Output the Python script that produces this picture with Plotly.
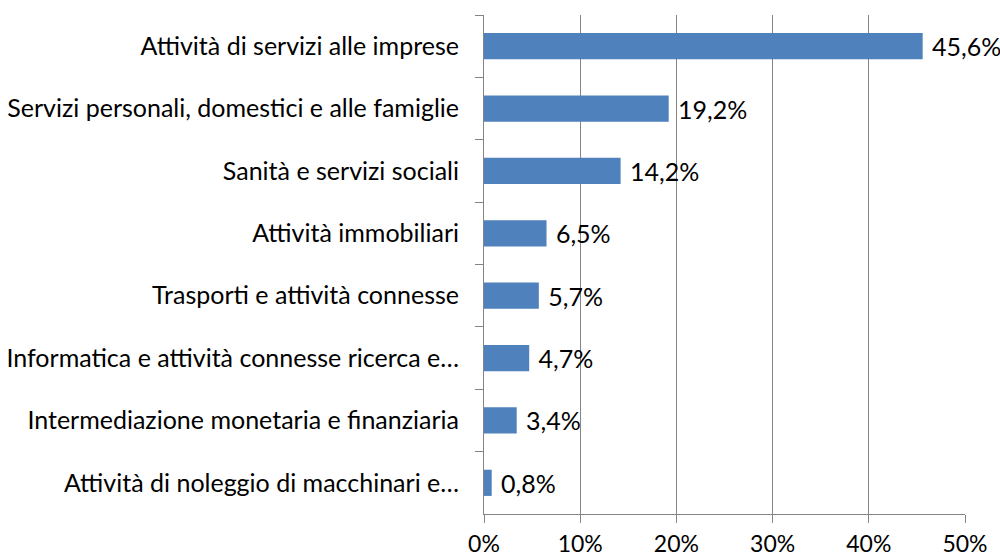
import plotly.graph_objects as go

categories = [
    "Attività di servizi alle imprese",
    "Servizi personali, domestici e alle famiglie",
    "Sanità e servizi sociali",
    "Attività immobiliari",
    "Trasporti e attività connesse",
    "Informatica e attività connesse ricerca e…",
    "Intermediazione monetaria e finanziaria",
    "Attività di noleggio di macchinari e…",
]
values = [45.6, 19.2, 14.2, 6.5, 5.7, 4.7, 3.4, 0.8]
labels = ["45,6%", "19,2%", "14,2%", "6,5%", "5,7%", "4,7%", "3,4%", "0,8%"]
x_ticks = [0, 10, 20, 30, 40, 50]
x_tick_labels = ["0%", "10%", "20%", "30%", "40%", "50%"]

FONT = "Lato, 'Open Sans', sans-serif"
GRID = "#858585"

fig = go.Figure(
    go.Bar(
        x=values,
        y=categories,
        orientation="h",
        marker=dict(color="#4F81BD", line=dict(color="#4F81BD", width=0)),
        text=labels,
        texttemplate=" %{text}",
        textposition="outside",
        textfont=dict(family=FONT, size=25, color="#000000"),
        constraintext="none",
        cliponaxis=False,
        hoverinfo="skip",
    )
)

fig.update_layout(
    width=1000,
    height=558,
    margin=dict(l=484, r=35, t=15, b=44),
    plot_bgcolor="white",
    paper_bgcolor="white",
    bargap=0.58,
    showlegend=False,
    font=dict(family=FONT, color="#000000"),
)

fig.update_xaxes(
    range=[0, 50],
    tickvals=x_ticks,
    ticktext=x_tick_labels,
    showgrid=True,
    gridcolor=GRID,
    gridwidth=1,
    showline=True,
    linecolor=GRID,
    linewidth=1,
    ticks="outside",
    ticklen=8,
    tickcolor=GRID,
    tickfont=dict(family=FONT, size=23, color="#000000"),
    ticklabelstandoff=1,
    zeroline=False,
    automargin=False,
)

fig.update_yaxes(
    autorange="reversed",
    showline=True,
    linecolor=GRID,
    linewidth=1,
    ticks="outside",
    tickson="boundaries",
    ticklen=8,
    tickcolor=GRID,
    tickfont=dict(family=FONT, size=25, color="#000000"),
    ticklabelstandoff=19,
    showgrid=False,
    automargin=False,
)

fig.write_html(
    "out.html",
    config={"displayModeBar": False},
    post_script="document.body.style.margin='0';document.body.style.overflow='hidden';",
)
